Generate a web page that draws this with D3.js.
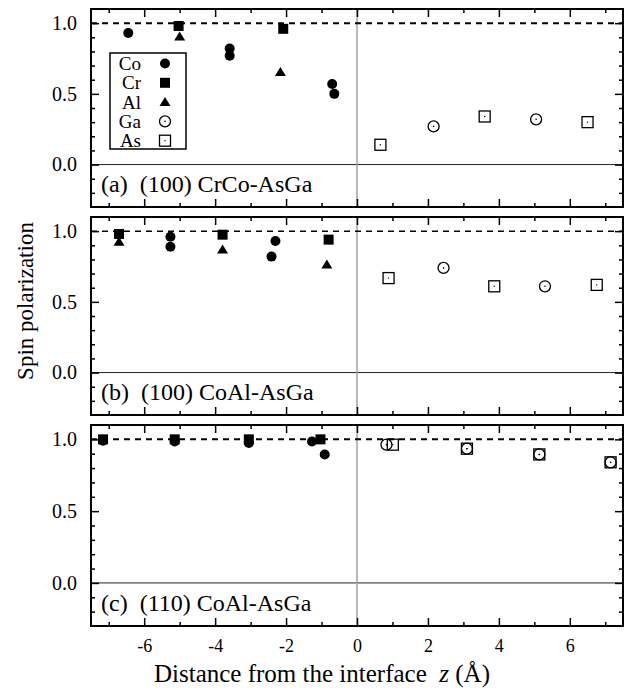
<!DOCTYPE html>
<html>
<head>
<meta charset="utf-8">
<script src="https://cdn.jsdelivr.net/npm/d3@7"></script>
<style>
  body { margin: 0; background: #fff; }
  text { font-family: "Liberation Serif", "Times New Roman", serif; fill: #000; }
</style>
</head>
<body>
<div id="chart"></div>
<script>
// spin polarization vs. z, one pair [z, P] per point

// (a) (100) CrCo-AsGa
const aCo = [[-6.45, 0.93], [-3.59, 0.82], [-3.59, 0.77], [-0.70, 0.57], [-0.64, 0.50]];
const aCr = [[-5.03, 0.98], [-2.08, 0.96]];
const aAl = [[-5.0, 0.905], [-2.16, 0.655]];
const aGa = [[2.16, 0.27], [5.05, 0.32]];
const aAs = [[0.66, 0.14], [3.6, 0.34], [6.5, 0.30]];

// (b) (100) CoAl-AsGa
const bCo = [[-5.26, 0.96], [-5.26, 0.89], [-2.30, 0.93], [-2.41, 0.82]];
const bCr = [[-6.71, 0.98], [-3.79, 0.975], [-0.80, 0.94]];
const bAl = [[-6.71, 0.925], [-3.79, 0.87], [-0.85, 0.765]];
const bGa = [[2.44, 0.74], [5.3, 0.61]];
const bAs = [[0.89, 0.668], [3.87, 0.61], [6.76, 0.62]];

// (c) (110) CoAl-AsGa
const cCo = [[-7.16, 0.99], [-5.14, 0.985], [-3.05, 0.975], [-1.27, 0.985], [-0.91, 0.895]];
const cCr = [[-7.16, 1.0], [-5.14, 1.0], [-3.05, 1.0], [-1.03, 1.0]];
const cAl = [];
const cGa = [[0.83, 0.963], [3.1, 0.935], [5.14, 0.895], [7.15, 0.84]];
const cAs = [[1.01, 0.963], [3.1, 0.935], [5.14, 0.895], [7.15, 0.84]];

const panelLabels = ["(a)  (100) CrCo-AsGa", "(b)  (100) CoAl-AsGa", "(c)  (110) CoAl-AsGa"];
const elements = ["Co", "Cr", "Al", "Ga", "As"];
const xMajor = [-6, -4, -2, 0, 2, 4, 6];
const xMinor = [-7, -5, -3, -1, 1, 3, 5, 7];
const yMajor = [0, 0.5, 1.0];
const yMinor = [-0.2, -0.1, 0.1, 0.2, 0.3, 0.4, 0.6, 0.7, 0.8, 0.9];

const panelData = [
  { Co: aCo, Cr: aCr, Al: aAl, Ga: aGa, As: aAs },
  { Co: bCo, Cr: bCr, Al: bAl, Ga: bGa, As: bAs },
  { Co: cCo, Cr: cCr, Al: cAl, Ga: cGa, As: cAs }
];

const W = 630, H = 688;
const left = 91, right = 623;
// frame top / height of each panel
const panels = [
  { top: 9, h: 198, dashW: 2 },
  { top: 217, h: 198, dashW: 1.5 },
  { top: 425, h: 201, dashW: 2 }
];

const svg = d3.select("#chart").append("svg")
  .attr("width", W)
  .attr("height", H);

const x = d3.scaleLinear().domain([-7.5, 7.5]).range([left, right]);

// draw one marker of the given element
function marker(g, el, px, py) {
  if (el === "Co") {
    g.append("circle").attr("cx", px).attr("cy", py).attr("r", 5).attr("fill", "#000");
  } else if (el === "Cr") {
    g.append("rect").attr("x", px - 5).attr("y", py - 5).attr("width", 10).attr("height", 10).attr("fill", "#000");
  } else if (el === "Al") {
    g.append("path").attr("d", `M${px},${py - 5} L${px + 5.5},${py + 4} L${px - 5.5},${py + 4} Z`).attr("fill", "#000");
  } else if (el === "Ga") {
    g.append("circle").attr("cx", px).attr("cy", py).attr("r", 5.5)
      .attr("fill", "none").attr("stroke", "#000").attr("stroke-width", 1.3);
    g.append("circle").attr("cx", px).attr("cy", py).attr("r", 0.8).attr("fill", "#000");
  } else if (el === "As") {
    g.append("rect").attr("x", px - 5.5).attr("y", py - 5.5).attr("width", 11).attr("height", 11)
      .attr("fill", "none").attr("stroke", "#000").attr("stroke-width", 1.3);
    g.append("circle").attr("cx", px).attr("cy", py).attr("r", 0.7).attr("fill", "#000");
  }
}

panels.forEach((p, i) => {
  const y = d3.scaleLinear().domain([-0.3, 1.1]).range([p.top + p.h, p.top]);
  const g = svg.append("g");

  // zero line and interface line
  g.append("line")
    .attr("x1", left).attr("x2", right)
    .attr("y1", y(0)).attr("y2", y(0))
    .attr("stroke", "#222").attr("stroke-width", 1);
  g.append("line")
    .attr("x1", x(0)).attr("x2", x(0))
    .attr("y1", p.top).attr("y2", p.top + p.h)
    .attr("stroke", "#a0a0a0").attr("stroke-width", 1.5);

  // P = 1 reference
  g.append("line")
    .attr("x1", left).attr("x2", right)
    .attr("y1", y(1)).attr("y2", y(1))
    .attr("stroke", "#000").attr("stroke-width", p.dashW)
    .attr("stroke-dasharray", "6,5");

  // inward ticks on all four sides
  const addAxis = (axis, tx, ty) => {
    const a = g.append("g").attr("transform", `translate(${tx},${ty})`).call(axis);
    a.select(".domain").remove();
    a.selectAll("line").attr("stroke", "#000").attr("stroke-width", 1.5);
    return a;
  };
  const yl = addAxis(d3.axisLeft(y).tickValues(yMajor).tickSize(-8).tickPadding(14).tickFormat(d3.format(".1f")), left, 0);
  yl.selectAll("text")
    .style("font-family", "'Liberation Serif', serif")
    .style("font-size", "20px");
  addAxis(d3.axisLeft(y).tickValues(yMinor).tickSize(-4).tickFormat(""), left, 0);
  addAxis(d3.axisRight(y).tickValues(yMajor).tickSize(-8).tickFormat(""), right, 0);
  addAxis(d3.axisRight(y).tickValues(yMinor).tickSize(-4).tickFormat(""), right, 0);
  addAxis(d3.axisTop(x).tickValues(xMajor).tickSize(-8).tickFormat(""), 0, p.top);
  addAxis(d3.axisTop(x).tickValues(xMinor).tickSize(-4).tickFormat(""), 0, p.top);
  const xb = addAxis(d3.axisBottom(x).tickValues(xMajor).tickSize(-8).tickPadding(13)
    .tickFormat(i === 2 ? d3.format("d") : ""), 0, p.top + p.h);
  xb.selectAll("text")
    .style("font-family", "'Liberation Serif', serif")
    .style("font-size", "18px")
    .text(d => i === 2 ? String(d).replace("\u2212", "-") : "");
  addAxis(d3.axisBottom(x).tickValues(xMinor).tickSize(-4).tickFormat(""), 0, p.top + p.h);

  // points: open squares under open circles
  const order = ["As", "Ga", "Al", "Cr", "Co"];
  order.forEach(el => {
    panelData[i][el].forEach(d => marker(g, el, x(d[0]), y(d[1])));
  });

  // frame
  g.append("rect")
    .attr("x", left).attr("y", p.top)
    .attr("width", right - left).attr("height", p.h)
    .attr("fill", "none").attr("stroke", "#000").attr("stroke-width", 2);

  // panel label
  g.append("text")
    .attr("x", left + 10)
    .attr("y", p.top + p.h - 15)
    .style("font-size", "24px")
    .style("white-space", "pre")
    .text(panelLabels[i]);
});

// legend in panel (a)
const lg = svg.append("g");
lg.append("rect")
  .attr("x", 110).attr("y", 53)
  .attr("width", 76).attr("height", 96)
  .attr("fill", "#fff").attr("stroke", "#000").attr("stroke-width", 1.5);
elements.forEach((el, k) => {
  const cy = 63.5 + k * 19.3;
  lg.append("text")
    .attr("x", 141).attr("y", cy)
    .attr("dy", "0.35em")
    .attr("text-anchor", "end")
    .style("font-size", "19px")
    .text(el);
  marker(lg, el, 165, cy);
});

// axis titles
svg.append("text")
  .attr("transform", "translate(33,301) rotate(-90)")
  .attr("text-anchor", "middle")
  .style("font-size", "23px")
  .text("Spin polarization");

const xt = svg.append("text")
  .attr("x", 322).attr("y", 682)
  .attr("text-anchor", "middle")
  .style("font-size", "25px")
  .style("white-space", "pre");
xt.append("tspan").text("Distance from the interface  ");
xt.append("tspan").style("font-style", "italic").text("z");
xt.append("tspan").text(" (\u00C5)");
</script>
</body>
</html>
